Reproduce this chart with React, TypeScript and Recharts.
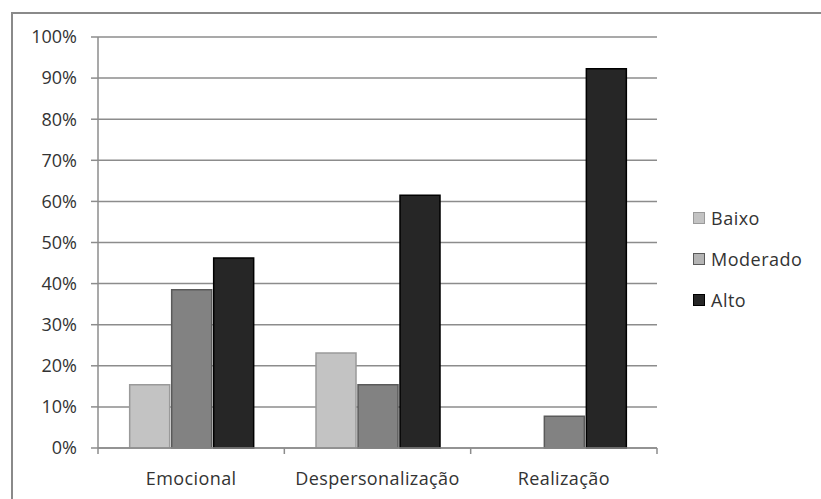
import { Bar, BarChart, CartesianGrid, Legend, XAxis, YAxis } from 'recharts'

const CATEGORIES = ['Emocional', 'Despersonalização', 'Realização']
const BAIXO = [15.4, 23.1, 0]
const MODERADO = [38.5, 15.4, 7.7]
const ALTO = [46.2, 61.5, 92.3]
const Y_TICKS = [0, 10, 20, 30, 40, 50, 60, 70, 80, 90, 100]

const SERIES = [
  { key: 'baixo', label: 'Baixo', fill: '#c3c3c3', stroke: '#9a9a9a', swatch: '#c3c3c3' },
  { key: 'moderado', label: 'Moderado', fill: '#828282', stroke: '#5a5a5a', swatch: '#b4b4b4' },
  { key: 'alto', label: 'Alto', fill: '#262626', stroke: '#000000', swatch: '#262626' },
]

const data = CATEGORIES.map((name, i) => ({
  name,
  baixo: BAIXO[i],
  moderado: MODERADO[i],
  alto: ALTO[i],
}))

const FONT = '"Open Sans", Lato, sans-serif'
const TEXT = '#333333'
const GRID = '#8c8c8c'

function CategoryTick(props: any) {
  const { x, y, payload, index } = props
  const half = payload.offset ?? 0
  const last = index === CATEGORIES.length - 1
  return (
    <g>
      <line x1={x - half} y1={y} x2={x - half} y2={y + 6} stroke={GRID} strokeWidth={1.5} />
      {last && <line x1={x + half} y1={y} x2={x + half} y2={y + 6} stroke={GRID} strokeWidth={1.5} />}
      <text x={x} y={y + 37} textAnchor="middle" fill={TEXT} fontSize={18} letterSpacing={0.4} fontFamily={FONT}>
        {payload.value}
      </text>
    </g>
  )
}

function LegendBox() {
  return (
    <div style={{ fontFamily: FONT, fontSize: 18, letterSpacing: 0.5, color: TEXT }}>
      {SERIES.map((s) => (
        <div key={s.key} style={{ display: 'flex', alignItems: 'center', height: 41 }}>
          <span
            style={{
              width: 12,
              height: 12,
              background: s.swatch,
              border: `1px solid ${s.stroke}`,
              marginRight: 6,
              boxSizing: 'border-box',
            }}
          />
          {s.label}
        </div>
      ))}
    </div>
  )
}

export default function App() {
  return (
    <div style={{ position: 'absolute', left: 0, top: 0, width: 821, height: 499, background: '#fff', overflow: 'hidden' }}>
      <div
        style={{
          position: 'absolute',
          left: 11,
          top: 12,
          width: 840,
          height: 520,
          border: '2px solid #8a8a8a',
        }}
      />
      <div style={{ position: 'absolute', left: 0, top: 0 }}>
        <BarChart
          width={821}
          height={499}
          data={data}
          margin={{ top: 37, right: 164, left: 38, bottom: 21 }}
          barCategoryGap="17%"
          barGap={2}
        >
          <CartesianGrid vertical={false} stroke={GRID} strokeWidth={1.5} />
          <XAxis
            dataKey="name"
            height={30}
            axisLine={{ stroke: GRID, strokeWidth: 1.5 }}
            tickLine={false}
            tickSize={0}
            tickMargin={0}
            interval={0}
            tick={<CategoryTick />}
          />
          <YAxis
            width={60}
            domain={[0, 100]}
            ticks={Y_TICKS}
            interval={0}
            tickFormatter={(v: number) => `${v}%`}
            axisLine={{ stroke: GRID, strokeWidth: 1.5 }}
            tickLine={{ stroke: GRID, strokeWidth: 1.5 }}
            tickSize={7}
            tickMargin={14}
            tick={{ fill: TEXT, fontSize: 18, fontFamily: FONT }}
          />
          <Legend
            layout="vertical"
            verticalAlign="middle"
            align="center"
            wrapperStyle={{ left: 693, top: 197, width: 125 }}
            content={() => <LegendBox />}
          />
          {SERIES.map((s) => (
            <Bar
              key={s.key}
              dataKey={s.key}
              name={s.label}
              fill={s.fill}
              stroke={s.stroke}
              strokeWidth={1.5}
              isAnimationActive={false}
            />
          ))}
        </BarChart>
      </div>
    </div>
  )
}
